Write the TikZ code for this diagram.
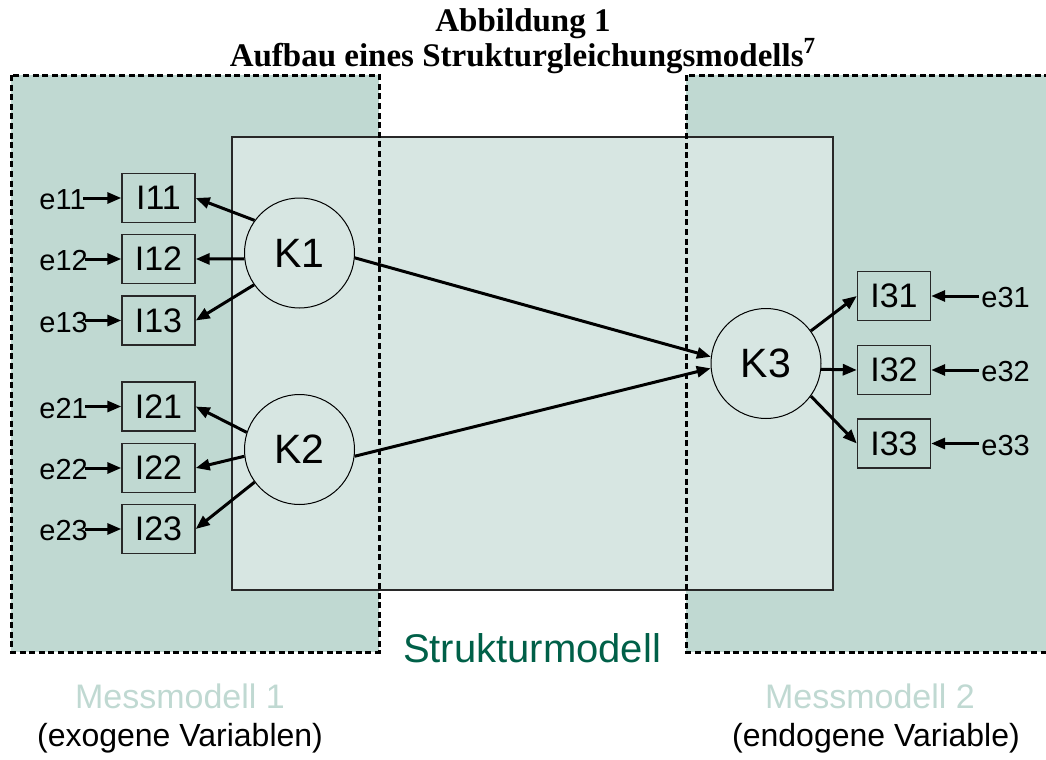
\documentclass[tikz,border=0pt]{standalone}
\usepackage{fontspec}
\setmainfont{Liberation Serif}
\newfontfamily\arialfont{Liberation Sans}
\usepackage{xcolor}
\definecolor{mmfill}{RGB}{192,217,210}
\definecolor{smfill}{RGB}{215,230,226}
\definecolor{smgreen}{RGB}{0,96,72}
\definecolor{boxline}{RGB}{40,40,40}
\usetikzlibrary{arrows.meta}

\begin{document}
\begin{tikzpicture}[x=0.5pt, y=-0.5pt,
  konstrukt/.style={circle, draw=black, line width=0.5pt, fill=smfill,
                    minimum size=55pt, inner sep=0pt,
                    font=\arialfont\fontsize{20.5}{24}\selectfont},
  indikator/.style={rectangle, draw=boxline, line width=0.7pt, fill=mmfill,
                    minimum width=36.5pt, minimum height=24.5pt, inner sep=0pt,
                    font=\arialfont\fontsize{17}{20}\selectfont},
  fehler/.style={inner sep=0pt, font=\arialfont\fontsize{14.5}{17}\selectfont},
  arr/.style={-{Triangle[length=7pt,width=5.5pt]}, line width=1.5pt},
  mmrand/.style={dashed, dash pattern=on 3pt off 1.8pt, line width=1.5pt},
  titel/.style={anchor=base, font=\bfseries\fontsize{16.5}{20}\selectfont},
  mmtitel/.style={anchor=base, text=mmfill, font=\arialfont\fontsize{17}{20}\selectfont},
  mmsub/.style={anchor=base, font=\arialfont\fontsize{16}{19}\selectfont}
]
\useasboundingbox (0,0) rectangle (1046,760);

% Title
\node[titel] (abb) at (523,32) {Abbildung 1};
\node[titel] (auf) at (523,66) {Aufbau eines Strukturgleichungsmodells\textsuperscript{7}};

% Messmodelle und Strukturmodell
\fill[mmfill] (11,75) rectangle (379,652);
\fill[mmfill] (686,75) rectangle (1060,652);
\draw[boxline, line width=0.7pt, fill=smfill] (232,137) rectangle (833,590);
\draw[mmrand] (11,75) rectangle (379,652);
\draw[mmrand] (1060,75) -- (686,75) -- (686,652) -- (1060,652);

% Konstrukte
\node[konstrukt] (K1) at (299.5,253) {K1};
\node[konstrukt] (K2) at (299.5,449.5) {K2};
\node[konstrukt] (K3) at (766,363.5) {K3};

% Indikatoren Messmodell 1
\node[indikator] (I11) at (158.5,198) {I11};
\node[indikator] (I12) at (158.5,259) {I12};
\node[indikator] (I13) at (158.5,320.5) {I13};
\node[indikator] (I21) at (158.5,406.5) {I21};
\node[indikator] (I22) at (158.5,468) {I22};
\node[indikator] (I23) at (158.5,529) {I23};

% Indikatoren Messmodell 2
\node[indikator] (I31) at (894,296) {I31};
\node[indikator] (I32) at (894,370) {I32};
\node[indikator] (I33) at (894,443.5) {I33};

% Fehlerterme
\foreach \i/\y in {11/198,12/259,13/320.5,21/406.5,22/468,23/529}
  \node[fehler, anchor=west] (e\i) at (39,\y+2) {e\i};
\foreach \i/\y in {31/296,32/370,33/443.5}
  \node[fehler, anchor=west] (e\i) at (981,\y+2) {e\i};

% Pfeile Fehler -> Indikatoren
\foreach \i in {11,12,13,21,22,23}
  \draw[arr] ([xshift=-1.5pt]e\i.east |- I\i) -- (I\i.west);
\foreach \i in {31,32,33}
  \draw[arr] ([xshift=-1pt]e\i.west |- I\i) -- (I\i.east);

% Pfeile Konstrukte -> Indikatoren
\draw[arr] (K1.144) -- (I11.east);
\draw[arr] (K1.186) -- (I12.east);
\draw[arr] (K1.215) -- (I13.east);
\draw[arr] (K2.162) -- (I21.east);
\draw[arr] (K2.187) -- (I22.east);
\draw[arr] (K2.216) -- (I23.east);
\draw[arr] (K3.36) -- (I31.west);
\draw[arr] (K3.-6) -- (I32.west);
\draw[arr] (K3.-36) -- (I33.west);

% Strukturpfade
\draw[arr] (K1.-5) -- (K3.173);
\draw[arr] (K2.-7) -- (K3.185);

% Beschriftung
\node[anchor=base, text=smgreen, font=\arialfont\fontsize{20}{24}\selectfont] (sm) at (532,662) {Strukturmodell};
\node[mmtitel] (mm1) at (180,708) {Messmodell 1};
\node[mmsub] (exo) at (180,746) {(exogene Variablen)};
\node[mmtitel] (mm2) at (870,708) {Messmodell 2};
\node[mmsub] (endo) at (876,746) {(endogene Variable)};
\end{tikzpicture}
\end{document}
